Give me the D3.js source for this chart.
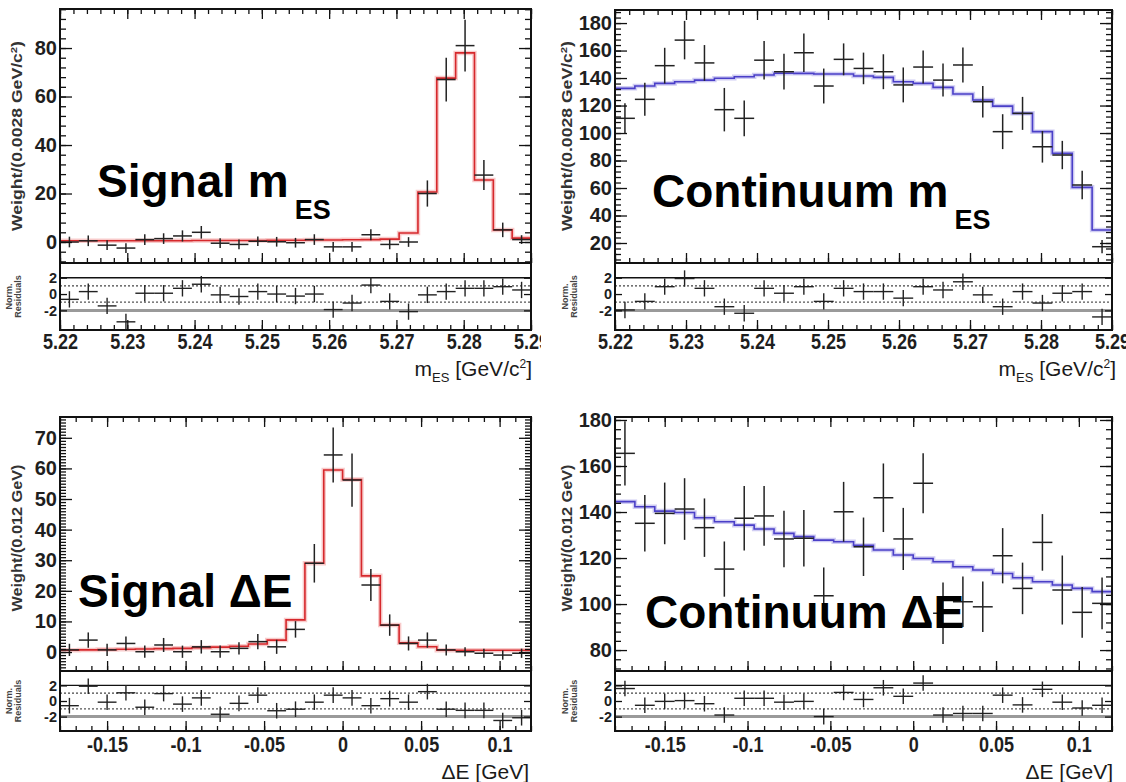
<!DOCTYPE html>
<html><head><meta charset="utf-8">
<script src="https://cdn.jsdelivr.net/npm/d3@7"></script>
<style>body{margin:0;background:#fff;overflow:hidden}</style>
</head><body>
<script>
// ================= DATA =================
const mesBinStart = 5.22, mesBinWidth = 0.0028;
const deBinStart = -0.18, deBinWidth = 0.012;

const mesTickValues = [5.22, 5.23, 5.24, 5.25, 5.26, 5.27, 5.28, 5.29];
const mesTickLabels = ["5.22", "5.23", "5.24", "5.25", "5.26", "5.27", "5.28", "5.29"];
const deTickValues = [-0.15, -0.1, -0.05, 0, 0.05, 0.1];
const deTickLabels = ["-0.15", "-0.1", "-0.05", "0", "0.05", "0.1"];
const resTickValues = [-2, 0, 2];
const resTickLabels = ["-2", "0", "2"];

const sigMesYTicks = [0, 20, 40, 60, 80];
const conMesYTicks = [20, 40, 60, 80, 100, 120, 140, 160, 180];
const sigDeYTicks = [0, 10, 20, 30, 40, 50, 60, 70];
const conDeYTicks = [80, 100, 120, 140, 160, 180];

// Signal m_ES
const sigMesValues = [0, 0.5, -1.3, -2.5, 1, 1.4, 2.5, 4, -0.5, -1, 0.3, 0.1, -0.3, 1, -2, -2, 3, -1, 0, 20, 67, 81, 27.6, 5, 1];
const sigMesErrors = [2.2, 2.2, 2.0, 2.0, 2.2, 2.2, 2.3, 2.6, 2.0, 2.0, 2.0, 2.0, 2.0, 2.2, 2.0, 2.0, 2.3, 2.0, 2.0, 5.4, 9, 10.7, 6.2, 3, 1.8];
const sigMesFit = [0.5, 0.5, 0.5, 0.5, 0.5, 0.5, 0.5, 0.6, 0.6, 0.6, 0.6, 0.7, 0.7, 0.8, 0.8, 0.9, 1.0, 1.2, 3.7, 20.6, 67.6, 78, 25.6, 5, 1.6];
const sigMesResid = [-0.65, 0.3, -1.45, -3.4, 0.1, 0.1, 0.7, 1.2, -0.1, -0.3, 0.3, 0, -0.25, 0, -1.9, -1.1, 1.1, -0.9, -2.15, -0.1, 0.3, 0.7, 0.7, 0.9, 0.5];

// Continuum m_ES
const conMesValues = [110.7, 124.5, 149, 167.6, 151, 117, 110.7, 153, 144.6, 158.4, 134.2, 153.6, 147, 144.6, 135, 148, 138.5, 149.5, 122.8, 101, 114.3, 90, 84, 62.2, 17.3];
const conMesErrors = [11, 12, 13, 14, 13, 15.8, 13, 14, 13, 14, 12.7, 11.6, 11.5, 12.7, 12.7, 12, 12, 12.7, 11.5, 12.7, 12, 11.5, 10.3, 10.3, 4.8];
const conMesFit = [132.5, 134.2, 136.1, 137.3, 138.5, 139.8, 140.9, 142.2, 143.5, 143.4, 142.9, 142.9, 141.5, 140.5, 137.3, 136.1, 133.2, 128.4, 124, 119.6, 114.3, 101, 85.2, 60.5, 29.5];
const conMesResid = [-1.95, -0.9, 0.9, 1.9, 0.7, -1.55, -2.35, 0.7, 0.1, 0.9, -0.9, 0.7, 0.3, 0.3, -0.5, 0.9, 0.5, 1.5, -0.1, -1.55, 0.3, -1.1, 0.1, 0.3, -2.8];

// Signal Delta E
const sigDeValues = [0.7, 3.9, 0.7, 2.8, 0.1, 2.3, 0.1, 1.7, 0.1, 1.2, 3.4, 1.7, 7.4, 29, 64.4, 56.2, 21.9, 8.8, 2.8, 3.9, 0.7, 0.1, -0.4, -1, -0.4];
const sigDeErrors = [2, 2.5, 2, 2.3, 2, 2.3, 2, 2.2, 2, 2, 2.5, 2.3, 2.7, 6.3, 9, 8.7, 5.2, 3.5, 2.3, 2.5, 1.8, 1.5, 1.5, 1.5, 1.5];
const sigDeFit = [0.6, 0.7, 0.8, 0.9, 1.0, 1.1, 1.2, 1.4, 1.6, 1.9, 2.6, 3.9, 10.5, 29, 59.5, 56.4, 24.9, 8.8, 3.0, 1.7, 0.6, 0.6, 0.6, 0.6, 0.6];
const sigDeResid = [-0.6, 1.9, -0.15, 1.05, -0.8, 0.95, -0.4, 0.4, -1.7, -0.3, 0.75, -1.25, -1.05, -0.15, 0.75, 0.4, -0.6, 0.3, -0.15, 1.2, -1.05, -1.2, -1.2, -2.5, -2.15];

// Continuum Delta E
const conDeValues = [165.5, 135.1, 139.4, 141.3, 133.2, 115.2, 137.3, 138.3, 128.3, 128.6, 103.6, 140.1, 124.9, 146.2, 128.3, 152.5, 96, 101, 98.8, 121, 106.8, 126.8, 106.1, 96.4, 100.3];
const conDeErrors = [14, 12.3, 13.4, 13.4, 12.7, 12, 14, 13, 12.3, 12.3, 12.3, 13, 12.7, 14.9, 13.5, 13, 13.4, 11, 11, 12, 11.2, 12.3, 15, 11, 11.2];
const conDeFit = [144.5, 142.3, 140.4, 139.8, 137.5, 135.8, 134.3, 132.6, 130.7, 129.3, 127.8, 127.1, 125.5, 123.5, 121.3, 119.8, 118.4, 116.2, 114.8, 113.3, 111.4, 109.7, 108.3, 106.8, 105.4];
const conDeResid = [1.6, -0.55, -0.05, 0.05, -0.35, -1.8, 0.35, 0.35, -0.15, -0.05, -2.0, 1.1, 0.2, 1.7, 0.6, 2.3, -1.8, -1.6, -1.6, 0.75, -0.5, 1.5, -0.15, -0.9, -0.55];

// ================= DRAWING =================
const W = 1126, H = 782;
const FONT = "'Liberation Sans', Arial, Helvetica, sans-serif";
const svg = d3.select('body').append('svg').attr('width', W).attr('height', H)
  .style('font-family', FONT);

let clipCount = 0;
function clip(x, y, w, h) {
  const id = 'clip' + (clipCount++);
  svg.append('clipPath').attr('id', id).append('rect')
    .attr('x', x).attr('y', y).attr('width', w).attr('height', h);
  return 'url(#' + id + ')';
}

function styleAxis(sel) {
  sel.select('.domain').remove();
  sel.selectAll('line').attr('stroke', '#111').attr('stroke-width', 1.3);
}

function drawPanel(c) {
  const root = svg.append('g');
  if (c.clipRight) root.attr('clip-path', clip(0, 0, c.clipRight, H));

  const x = d3.scaleLinear().domain(c.xDomain).range([c.left, c.right]);
  const y = d3.scaleLinear().domain(c.yDomain).range([c.mainBottom, c.top]);
  const yr = d3.scaleLinear().domain(c.resDomain).range([c.resBottom, c.mainBottom]);
  const n = c.values.length;
  const bins = d3.range(n).map(i => ({
    lo: c.binStart + i * c.binWidth,
    hi: c.binStart + (i + 1) * c.binWidth,
    mid: c.binStart + (i + 0.5) * c.binWidth,
    v: c.values[i], e: c.errors[i], f: c.fit[i], r: c.resid[i]
  }));

  // residual reference lines
  const rg = root.append('g').attr('clip-path', clip(c.left, c.mainBottom, c.right - c.left, c.resBottom - c.mainBottom));
  [[2, '#111', 1.4, null], [-2, '#9a9a9a', 3, null], [1, '#444', 1.2, '2,2'], [-1, '#555', 1.2, '2,2']].forEach(([v, col, w, da]) => {
    rg.append('line').attr('x1', c.left).attr('x2', c.right).attr('y1', yr(v)).attr('y2', yr(v))
      .attr('stroke', col).attr('stroke-width', w).attr('stroke-dasharray', da);
  });
  // residual crosses
  rg.selectAll('.rh').data(bins).join('line')
    .attr('x1', d => x(d.lo)).attr('x2', d => x(d.hi)).attr('y1', d => yr(d.r)).attr('y2', d => yr(d.r))
    .attr('stroke', '#222').attr('stroke-width', 1.4);
  rg.selectAll('.rv').data(bins).join('line')
    .attr('x1', d => x(d.mid)).attr('x2', d => x(d.mid)).attr('y1', d => yr(d.r - 1)).attr('y2', d => yr(d.r + 1))
    .attr('stroke', '#222').attr('stroke-width', 1.4);

  // main: fit step + data crosses
  const mg = root.append('g').attr('clip-path', clip(c.left, c.top, c.right - c.left, c.mainBottom - c.top));
  const stepPts = [];
  bins.forEach(d => { stepPts.push([d.lo, d.f]); stepPts.push([d.hi, d.f]); });
  const line = d3.line().x(p => x(p[0])).y(p => y(p[1]));
  mg.append('path').attr('d', line(stepPts)).attr('fill', 'none')
    .attr('stroke', c.haloColor).attr('stroke-width', 4.5).attr('stroke-opacity', 0.55);
  mg.append('path').attr('d', line(stepPts)).attr('fill', 'none')
    .attr('stroke', c.fitColor).attr('stroke-width', 1.6);
  mg.selectAll('.dh').data(bins).join('line')
    .attr('x1', d => x(d.lo)).attr('x2', d => x(d.hi)).attr('y1', d => y(d.v)).attr('y2', d => y(d.v))
    .attr('stroke', '#222').attr('stroke-width', 1.5);
  mg.selectAll('.dv').data(bins).join('line')
    .attr('x1', d => x(d.mid)).attr('x2', d => x(d.mid)).attr('y1', d => y(d.v - d.e)).attr('y2', d => y(d.v + d.e))
    .attr('stroke', '#222').attr('stroke-width', 1.5);

  // ---- axes (ROOT style, ticks inside) ----
  const ag = root.append('g');
  const inY = v => v >= Math.min(...c.yDomain) && v <= Math.max(...c.yDomain);
  const inX = v => v >= c.xDomain[0] - 1e-9 && v <= c.xDomain[1] + 1e-9;
  const yMajor = c.yTicks.filter(inY), yMinor = c.yMinor.filter(inY);
  const xMajor = c.xTicks.filter(inX), xMinor = c.xMinor.filter(inX);
  const xLabel = d => c.xTickLabels[c.xTicks.indexOf(d)];

  // left y
  ag.append('g').attr('transform', `translate(${c.left},0)`)
    .call(d3.axisLeft(y).tickValues(yMinor).tickSize(-6).tickFormat('')).call(styleAxis);
  ag.append('g').attr('transform', `translate(${c.left},0)`)
    .call(d3.axisLeft(y).tickValues(yMajor).tickSize(-12).tickPadding(3).tickFormat(d => String(d)))
    .call(styleAxis)
    .call(g => g.selectAll('text').attr('font-family', FONT).attr('font-size', 20).attr('font-weight', 'bold').attr('fill', '#1e1e1e'));
  // right y
  ag.append('g').attr('transform', `translate(${c.right},0)`)
    .call(d3.axisRight(y).tickValues(yMinor).tickSize(-6).tickFormat('')).call(styleAxis);
  ag.append('g').attr('transform', `translate(${c.right},0)`)
    .call(d3.axisRight(y).tickValues(yMajor).tickSize(-12).tickFormat('')).call(styleAxis);
  // top x
  ag.append('g').attr('transform', `translate(0,${c.top})`)
    .call(d3.axisTop(x).tickValues(xMinor).tickSize(-5).tickFormat('')).call(styleAxis);
  ag.append('g').attr('transform', `translate(0,${c.top})`)
    .call(d3.axisTop(x).tickValues(xMajor).tickSize(-10).tickFormat('')).call(styleAxis);
  // main bottom x (ticks up)
  ag.append('g').attr('transform', `translate(0,${c.mainBottom})`)
    .call(d3.axisBottom(x).tickValues(xMinor).tickSize(-5).tickFormat('')).call(styleAxis);
  ag.append('g').attr('transform', `translate(0,${c.mainBottom})`)
    .call(d3.axisBottom(x).tickValues(xMajor).tickSize(-10).tickFormat('')).call(styleAxis);
  // residual bottom x (ticks up, labelled)
  ag.append('g').attr('transform', `translate(0,${c.resBottom})`)
    .call(d3.axisBottom(x).tickValues(xMinor).tickSize(-5).tickFormat('')).call(styleAxis);
  ag.append('g').attr('transform', `translate(0,${c.resBottom})`)
    .call(d3.axisBottom(x).tickValues(xMajor).tickSize(-10).tickPadding(c.xLabelPad).tickFormat(xLabel))
    .call(styleAxis)
    .call(g => g.selectAll('text').attr('font-family', FONT).attr('font-size', 22).attr('font-weight', 'bold')
      .attr('fill', '#1e1e1e').attr('transform', 'scale(0.82,1)'));
  // residual y
  ag.append('g').attr('transform', `translate(${c.left},0)`)
    .call(d3.axisLeft(yr).tickValues(resTickValues).tickSize(-7).tickPadding(3)
      .tickFormat(d => resTickLabels[resTickValues.indexOf(d)]))
    .call(styleAxis)
    .call(g => g.selectAll('text').attr('font-family', FONT).attr('font-size', 14.5).attr('font-weight', 'bold').attr('fill', '#1e1e1e'));
  ag.append('g').attr('transform', `translate(${c.right},0)`)
    .call(d3.axisRight(yr).tickValues(resTickValues).tickSize(-7).tickFormat('')).call(styleAxis);

  // frames
  ag.append('rect').attr('x', c.left).attr('y', c.top).attr('width', c.right - c.left).attr('height', c.mainBottom - c.top)
    .attr('fill', 'none').attr('stroke', '#111').attr('stroke-width', 2);
  ag.append('rect').attr('x', c.left).attr('y', c.mainBottom).attr('width', c.right - c.left).attr('height', c.resBottom - c.mainBottom)
    .attr('fill', 'none').attr('stroke', '#111').attr('stroke-width', 2);

  // y titles
  const yt = root.append('text')
    .attr('transform', `translate(${c.yTitleX},${c.yTitleY}) rotate(-90)`)
    .attr('text-anchor', 'middle').attr('font-size', 14).attr('font-weight', 'bold').attr('fill', '#333')
    .attr('textLength', c.yTitleLen).attr('lengthAdjust', 'spacingAndGlyphs');
  c.yTitle.forEach(part => {
    const t = yt.append('tspan').text(part.t);
    if (part.sup) t.attr('font-size', 9).attr('dy', -5);
    if (part.after) t.attr('dy', 5);
  });
  const rt = root.append('text')
    .attr('transform', `translate(${c.resTitleX},${(c.mainBottom + c.resBottom) / 2}) rotate(-90)`)
    .attr('text-anchor', 'middle').attr('font-size', 9).attr('font-weight', 'bold').attr('fill', '#444');
  rt.append('tspan').attr('x', 0).attr('dy', 0).text('Norm.');
  rt.append('tspan').attr('x', 0).attr('dy', 9).text('Residuals');

  // x title
  const xt = root.append('text').attr('x', c.xTitleX).attr('y', c.xTitleY)
    .attr('text-anchor', 'end').attr('font-size', 21).attr('fill', '#1a1a1a');
  c.xTitle.forEach(part => {
    const t = xt.append('tspan').text(part.t);
    if (part.dy) t.attr('dy', part.dy);
    if (part.fs) t.attr('font-size', part.fs);
  });

  // big label
  const bt = root.append('text').attr('x', c.bigX).attr('y', c.bigY)
    .attr('font-size', 46).attr('font-weight', 'bold').attr('fill', '#000');
  bt.append('tspan').text(c.bigText);
  if (c.bigSub) bt.append('tspan').attr('font-size', 27).attr('dx', 6).attr('dy', 22).text(c.bigSub);
}

const mesXTitle = [{t: 'm'}, {t: 'ES', fs: 13, dy: 6}, {t: ' [GeV/c', dy: -6}, {t: '2', fs: 12, dy: -8}, {t: ']', dy: 8}];
const deXTitle = [{t: '\u0394E [GeV]'}];
const mesYTitle = [{t: 'Weight/(0.0028 GeV/c'}, {t: '2', sup: true}, {t: ')', after: true}];
const deYTitle = [{t: 'Weight/(0.012 GeV)'}];

const mesMinor = d3.range(0, 36).map(i => 5.22 + i * 0.002);
const deMinor = d3.range(0, 31).map(i => -0.18 + i * 0.01);

drawPanel({
  left: 60, right: 531, top: 9, mainBottom: 263, resBottom: 330,
  xDomain: [5.22, 5.29], yDomain: [-8.66, 96.1], resDomain: [-4.4, 3.8],
  binStart: mesBinStart, binWidth: mesBinWidth,
  values: sigMesValues, errors: sigMesErrors, fit: sigMesFit, resid: sigMesResid,
  fitColor: '#d6282c', haloColor: '#f3a0a0',
  yTicks: sigMesYTicks, yMinor: d3.range(-8, 97, 4),
  xTicks: mesTickValues, xTickLabels: mesTickLabels, xMinor: mesMinor, xLabelPad: 3,
  yTitle: mesYTitle, yTitleX: 22, yTitleY: 136, yTitleLen: 190, resTitleX: 12,
  xTitle: mesXTitle, xTitleX: 532, xTitleY: 376,
  bigText: 'Signal m', bigSub: 'ES', bigX: 97, bigY: 197,
  clipRight: 541
});
drawPanel({
  left: 615, right: 1112, top: 10, mainBottom: 263, resBottom: 330,
  xDomain: [5.22, 5.29], yDomain: [5.45, 189.5], resDomain: [-4.4, 3.8],
  binStart: mesBinStart, binWidth: mesBinWidth,
  values: conMesValues, errors: conMesErrors, fit: conMesFit, resid: conMesResid,
  fitColor: '#4a3fc8', haloColor: '#aaa4ea',
  yTicks: conMesYTicks, yMinor: d3.range(8, 190, 4),
  xTicks: mesTickValues, xTickLabels: mesTickLabels, xMinor: mesMinor, xLabelPad: 3,
  yTitle: mesYTitle, yTitleX: 572, yTitleY: 136, yTitleLen: 190, resTitleX: 568,
  xTitle: mesXTitle, xTitleX: 1116, xTitleY: 376,
  bigText: 'Continuum m', bigSub: 'ES', bigX: 652, bigY: 207
});
drawPanel({
  left: 60, right: 531, top: 417, mainBottom: 671, resBottom: 731,
  xDomain: [-0.18, 0.12], yDomain: [-6.2, 76.8], resDomain: [-3.85, 3.85],
  binStart: deBinStart, binWidth: deBinWidth,
  values: sigDeValues, errors: sigDeErrors, fit: sigDeFit, resid: sigDeResid,
  fitColor: '#d6282c', haloColor: '#f3a0a0',
  yTicks: sigDeYTicks, yMinor: d3.range(-6, 77, 1),
  xTicks: deTickValues, xTickLabels: deTickLabels, xMinor: deMinor, xLabelPad: 5,
  yTitle: deYTitle, yTitleX: 22, yTitleY: 538, yTitleLen: 147, resTitleX: 12,
  xTitle: deXTitle, xTitleX: 529, xTitleY: 779,
  bigText: 'Signal \u0394E', bigX: 78, bigY: 607
});
drawPanel({
  left: 615, right: 1112, top: 417, mainBottom: 671, resBottom: 731,
  xDomain: [-0.18, 0.12], yDomain: [70.9, 181.3], resDomain: [-3.85, 3.85],
  binStart: deBinStart, binWidth: deBinWidth,
  values: conDeValues, errors: conDeErrors, fit: conDeFit, resid: conDeResid,
  fitColor: '#4a3fc8', haloColor: '#aaa4ea',
  yTicks: conDeYTicks, yMinor: d3.range(72, 182, 4),
  xTicks: deTickValues, xTickLabels: deTickLabels, xMinor: deMinor, xLabelPad: 5,
  yTitle: deYTitle, yTitleX: 572, yTitleY: 538, yTitleLen: 147, resTitleX: 568,
  xTitle: deXTitle, xTitleX: 1113, xTitleY: 779,
  bigText: 'Continuum \u0394E', bigX: 645, bigY: 628
});
</script>
</body></html>
